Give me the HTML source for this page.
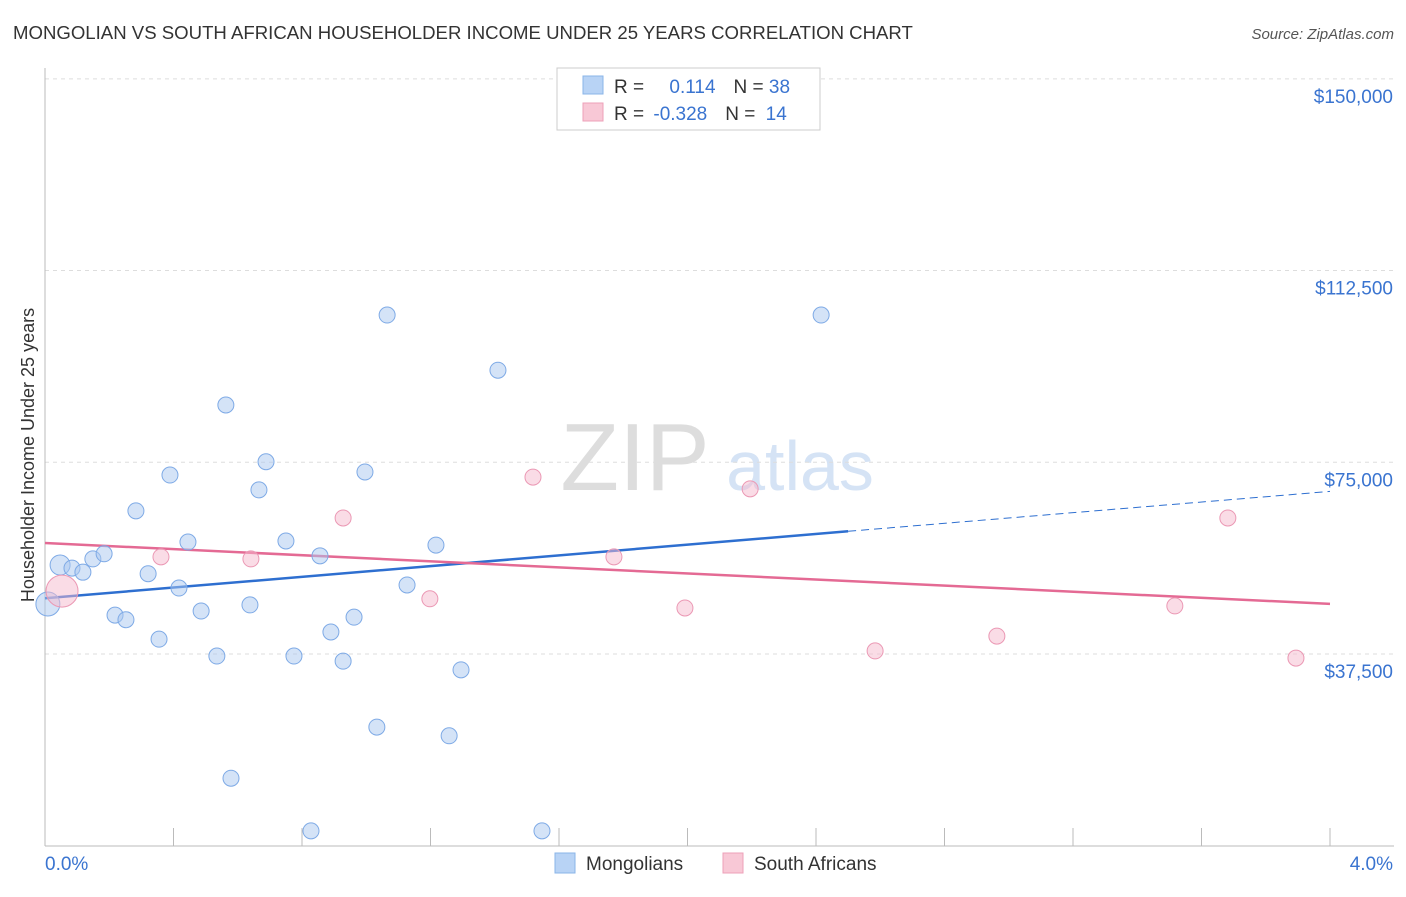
<!DOCTYPE html>
<html><head><meta charset="utf-8"><style>
body{margin:0;background:#fff;font-family:"Liberation Sans",sans-serif}
svg text{font-family:"Liberation Sans",sans-serif}
</style></head><body>
<svg id="c" width="1406" height="892">
<text x="13" y="39" font-size="18.6" fill="#333">MONGOLIAN VS SOUTH AFRICAN HOUSEHOLDER INCOME UNDER 25 YEARS CORRELATION CHART</text>
<text x="1394" y="39" font-size="15" fill="#555" font-style="italic" text-anchor="end">Source: ZipAtlas.com</text>
<g><text x="635" y="490" font-size="96" fill="#ddd" text-anchor="middle" font-family="Liberation Serif">ZIP</text><text x="800" y="490" font-size="70" fill="#d5e3f5" text-anchor="middle">atlas</text></g>
<g id="grid"></g><g id="axes"></g><g id="lines"></g><g id="pts"></g>
<text transform="translate(34,455) rotate(-90)" font-size="18" fill="#333" text-anchor="middle">Householder Income Under 25 years</text>
<g>
<rect x="557" y="68" width="263" height="62" fill="#fff" stroke="#ccc"/>
<rect x="583" y="76" width="20" height="18" fill="#b8d3f5" stroke="#8ab4e8"/>
<rect x="583" y="103" width="20" height="18" fill="#f8c8d6" stroke="#eea0b8"/>
<text x="614" y="93" font-size="19" fill="#333">R = <tspan fill="#3a74d0" dx="20">0.114</tspan><tspan dx="18" fill="#333">N = </tspan><tspan fill="#3a74d0">38</tspan></text>
<text x="614" y="120" font-size="19" fill="#333">R = <tspan fill="#3a74d0" dx="4">-0.328</tspan><tspan dx="18" fill="#333">N = </tspan><tspan fill="#3a74d0" dx="5">14</tspan></text>
</g>
<g>
<rect x="555" y="853" width="20" height="20" fill="#b8d3f5" stroke="#8ab4e8"/>
<text x="586" y="870" font-size="19" fill="#333">Mongolians</text>
<rect x="723" y="853" width="20" height="20" fill="#f8c8d6" stroke="#eea0b8"/>
<text x="754" y="870" font-size="19" fill="#333">South Africans</text>
</g>
</svg>
<script>
const yTicks=[37500,75000,112500,150000];
const yTickLabels=["$37,500","$75,000","$112,500","$150,000"];
const monX=[0.009,0.047,0.084,0.118,0.149,0.184,0.218,0.252,0.283,0.321,0.355,0.389,0.417,0.445,0.486,0.535,0.563,0.579,0.638,0.666,0.688,0.750,0.775,0.828,0.856,0.890,0.928,0.962,0.996,1.033,1.065,1.127,1.217,1.258,1.295,1.410,1.547,2.416];
const monY=[47280,54900,54300,53500,56100,57100,45100,44200,65500,53200,40400,72500,50400,59400,45900,37100,86200,13200,47100,69600,75100,59600,37100,2900,56700,41800,36100,44700,73100,23200,103800,51000,58800,21500,34400,93000,2900,103800];
const monR=[12,10,8,8,8,8,8,8,8,8,8,8,8,8,8,8,8,8,8,8,8,8,8,8,8,8,8,8,8,8,8,8,8,8,8,8,8,8];
const saX=[0.053,0.361,0.641,0.928,1.198,1.519,1.771,1.992,2.195,2.584,2.963,3.517,3.682,3.894];
const saY=[49800,56500,56100,64100,48300,72100,56500,46500,69800,38100,41000,46900,64100,36700];
const saR=[16,8,8,8,8,8,8,8,8,8,8,8,8,8];
const monTrend=[[0,48400],[2.5,61500],[4,69300]];
const saTrend=[[0,59200],[4,47300]];
const X=p=>45+p/4*1285, Y=v=>845.7-v/195.6;
const NS="http://www.w3.org/2000/svg";
function mk(t,a,parent){const e=document.createElementNS(NS,t);for(const k in a)e.setAttribute(k,a[k]);document.getElementById(parent).appendChild(e);return e;}
yTicks.forEach((v,i)=>{
 const g=mk('line',{x1:45,x2:1394,y1:Y(v),y2:Y(v),stroke:'#ddd','stroke-dasharray':'4,4'},'grid');
 
 
 const t=mk('text',{x:1393,y:Y(v)+24,'font-size':19,fill:'#3a74d0','text-anchor':'end'},'grid');
 t.textContent=yTickLabels[i];
 
 
});
const ax=mk('line',{x1:45,x2:45,y1:68,y2:846,stroke:'#bbb'},'axes');


const bx=mk('line',{x1:45,x2:1394,y1:846,y2:846,stroke:'#bbb'},'axes');


for(let i=0;i<=10;i++){const tk=mk('line',{x1:X(i*0.4),x2:X(i*0.4),y1:828,y2:846,stroke:'#bbb'},'axes');
 
 }
const l0=mk('text',{x:45,y:870,'font-size':19,fill:'#3a74d0'},'axes');l0.textContent='0.0%';


const l1=mk('text',{x:1393,y:870,'font-size':19,fill:'#3a74d0','text-anchor':'end'},'axes');l1.textContent='4.0%';


const t1=mk('line',{x1:X(monTrend[0][0]),y1:Y(monTrend[0][1]),x2:X(monTrend[1][0]),y2:Y(monTrend[1][1]),stroke:'#2e6fd0','stroke-width':2.5},'lines');


const t2=mk('line',{x1:X(monTrend[1][0]),y1:Y(monTrend[1][1]),x2:X(monTrend[2][0]),y2:Y(monTrend[2][1]),stroke:'#2e6fd0','stroke-width':1,'stroke-dasharray':'8,5'},'lines');


const t3=mk('line',{x1:X(saTrend[0][0]),y1:Y(saTrend[0][1]),x2:X(saTrend[1][0]),y2:Y(saTrend[1][1]),stroke:'#e46a94','stroke-width':2.5},'lines');


monX.forEach((p,i)=>{const c=mk('circle',{cx:X(p),cy:Y(monY[i]),r:monR[i],fill:'rgba(170,200,240,0.5)',stroke:'#7eaae6','stroke-width':1},'pts');
 
 });
saX.forEach((p,i)=>{const c=mk('circle',{cx:X(p),cy:Y(saY[i]),r:saR[i],fill:'rgba(245,185,205,0.5)',stroke:'#eb98b4','stroke-width':1},'pts');
 
 });
</script>
</body></html>
